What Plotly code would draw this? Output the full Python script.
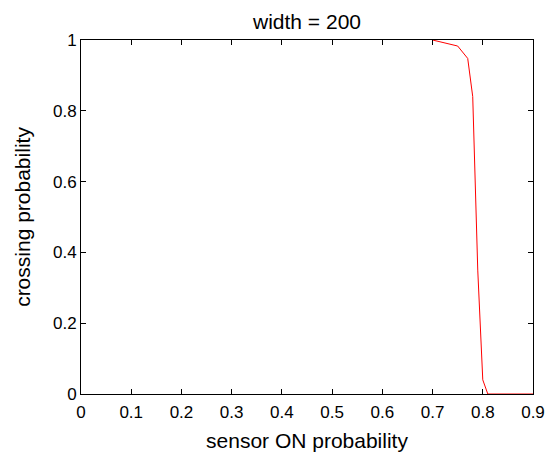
import plotly.graph_objects as go

sensor_on = [0.70, 0.75, 0.77, 0.78, 0.79, 0.80, 0.81, 0.90]
crossing = [1.0, 0.983, 0.948, 0.84, 0.35, 0.04, 0.0, 0.0]
x_ticks = [0, 0.1, 0.2, 0.3, 0.4, 0.5, 0.6, 0.7, 0.8, 0.9]
x_tick_text = ["0", "0.1", "0.2", "0.3", "0.4", "0.5", "0.6", "0.7", "0.8", "0.9"]
y_ticks = [0, 0.2, 0.4, 0.6, 0.8, 1]
y_tick_text = ["0", "0.2", "0.4", "0.6", "0.8", "1"]

fig = go.Figure()
fig.add_trace(go.Scatter(x=sensor_on, y=crossing, mode="lines",
                         line=dict(color="#ff0000", width=1), showlegend=False))

font = "Liberation Sans, Arial, Helvetica, sans-serif"
axis_common = dict(showgrid=False, zeroline=False, showline=True, linecolor="black",
                   linewidth=1, mirror="ticks", ticks="inside", ticklen=5, automargin=False,
                   tickcolor="black", tickfont=dict(size=17, color="black", family=font))
fig.update_xaxes(range=[0, 0.9], tickvals=x_ticks, ticktext=x_tick_text, ticklabelstandoff=3,
                 title=dict(text="sensor ON probability", font=dict(size=21, color="black", family=font), standoff=13),
                 **axis_common)
fig.update_yaxes(range=[0, 1], tickvals=y_ticks, ticktext=y_tick_text,
                 title=dict(text="crossing probability", font=dict(size=21, color="black", family=font), standoff=16),
                 **axis_common)
fig.update_layout(
    width=553, height=452,
    margin=dict(l=81, r=20, t=40, b=58),
    paper_bgcolor="white", plot_bgcolor="white",
    title=dict(text="width = 200", x=0.5, xanchor="center", xref="paper",
               y=1, yref="container", yanchor="top", pad=dict(t=14),
               font=dict(size=21, color="black", family=font)),
)
fig.write_html("out.html", config={"displayModeBar": False},
               post_script="document.body.style.margin='0';")
